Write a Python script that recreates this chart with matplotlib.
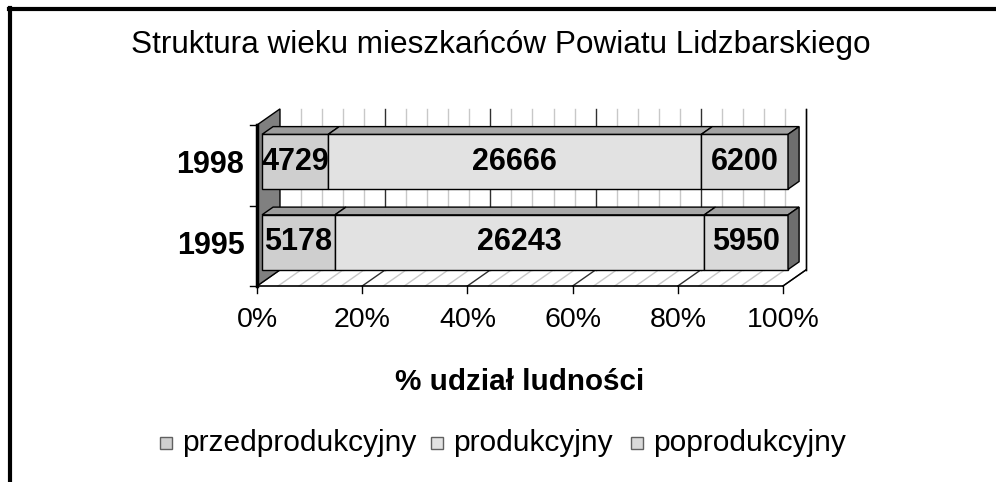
import matplotlib
matplotlib.use("Agg")
import matplotlib.pyplot as plt
from matplotlib.patches import Polygon, Rectangle
from matplotlib.lines import Line2D

plt.rcParams['font.family'] = ['Liberation Sans', 'DejaVu Sans']

# data
years = ['1995', '1998']
przed = [5178, 4729]
prod = [26243, 26666]
popr = [5950, 6200]
series_names = ['przedprodukcyjny', 'produkcyjny', 'poprodukcyjny']
face_colors = ['#cfcfcf', '#e2e2e2', '#d9d9d9']
top_colors = ['#9c9c9c', '#a8a8a8', '#a2a2a2']
ticks = [0, 20, 40, 60, 80, 100]

# pseudo-3d geometry (in data units)
DX, DY = 4.37, 0.2
F0, F1 = 0.22, 0.70
BAR_H = 0.68

fig = plt.figure(figsize=(9.96, 4.82), dpi=100)
ax = fig.add_axes([0, 0, 1, 1])
ax.set_xlim(-257 / 5.26, (996 - 257) / 5.26)
ax.set_ylim(-(482 - 286) / 80.5, 286 / 80.5)
ax.axis('off')

# outer frame
fig.add_artist(Line2D([9 / 996, 1], [1 - 9 / 482] * 2, color='black', lw=3, transform=fig.transFigure))
fig.add_artist(Line2D([10 / 996] * 2, [0, 1 - 8 / 482], color='black', lw=3, transform=fig.transFigure))

fig.text(501 / 996, 1 - 45 / 482, 'Struktura wieku mieszkańców Powiatu Lidzbarskiego',
         ha='center', va='center', fontsize=22.7)

# back wall grid + floor hatch
top = len(years)
for x in range(0, 101, 4):
    major = x % 20 == 0
    col = '#303030' if major else '#c8c8c8'
    if x > 0:
        ax.plot([x + DX, x + DX], [DY, top + DY], color=col, lw=1, zorder=1)
    ax.plot([x, x + DX], [0, DY], color=col, lw=1, zorder=1)
ax.plot([100 + DX, 100 + DX], [DY, top + DY], color='black', lw=1, zorder=2)
ax.plot([100, 100 + DX], [0, DY], color='black', lw=1, zorder=2)
ax.plot([0, 100], [0, 0], color='black', lw=1.2, zorder=2)

# left wall
ax.add_patch(Polygon([(0, 0), (DX, DY), (DX, top + DY), (0, top)], closed=True,
                     facecolor='#808080', edgecolor='black', lw=1, zorder=2))
ax.plot([0, 0], [0, top], color='black', lw=2.5, zorder=3)

# ticks
for t in ticks:
    ax.plot([t, t], [0, -0.09], color='black', lw=1, zorder=2)
    ax.text(t, -0.42, f'{t}%', ha='center', va='center', fontsize=20.5)
for k in range(top + 1):
    ax.plot([-1.35, 0], [k, k], color='black', lw=1, zorder=2)

ax.text(50, -1.19, '% udział ludności', ha='center', va='center', fontsize=21.3, fontweight='bold')

# bars
for i, yr in enumerate(years):
    vals = [przed[i], prod[i], popr[i]]
    total = sum(vals)
    yc = i + 0.5
    y0 = yc - BAR_H / 2 + F0 * DY
    y1 = yc + BAR_H / 2 + F0 * DY
    d = F1 - F0
    left = 0.0
    for j, v in enumerate(vals):
        w = v / total * 100
        xl = left + F0 * DX
        xr = left + w + F0 * DX
        ax.add_patch(Rectangle((xl, y0), w, BAR_H, facecolor=face_colors[j],
                               edgecolor='black', lw=1, zorder=5))
        ax.add_patch(Polygon([(xl, y1), (xr, y1), (xr + d * DX, y1 + d * DY), (xl + d * DX, y1 + d * DY)],
                             closed=True, facecolor=top_colors[j], edgecolor='black', lw=1, zorder=5))
        ax.text((xl + xr) / 2, yc + F0 * DY, str(v), ha='center', va='center',
                fontsize=22, fontweight='bold', zorder=6)
        left += w
    xr = 100 + F0 * DX
    ax.add_patch(Polygon([(xr, y0), (xr, y1), (xr + d * DX, y1 + d * DY), (xr + d * DX, y0 + d * DY)],
                         closed=True, facecolor='#6e6e6e', edgecolor='black', lw=1, zorder=5))
    ax.text(-2.4, yc, yr, ha='right', va='center', fontsize=22, fontweight='bold')

# legend
leg_x = [160, 431, 631]
for name, col, lx in zip(series_names, face_colors, leg_x):
    fig.add_artist(Rectangle((lx / 996, 1 - 449 / 482), 12 / 996, 12 / 482, facecolor=col,
                             edgecolor='#606060', lw=1, transform=fig.transFigure))
    fig.text((lx + 22) / 996, 1 - 443 / 482, name, ha='left', va='center', fontsize=21.5)

fig.savefig('out.png', dpi=100)
